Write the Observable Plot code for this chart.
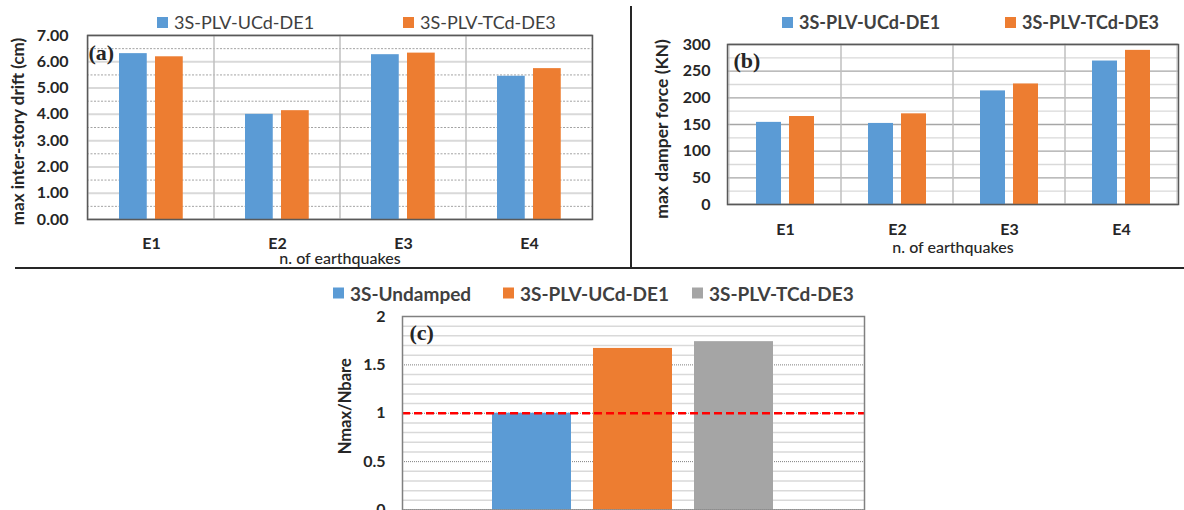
<!DOCTYPE html>
<html><head><meta charset="utf-8">
<script src="https://cdn.jsdelivr.net/npm/d3@7"></script>
<script src="https://cdn.jsdelivr.net/npm/@observablehq/plot@0.6"></script>
<style>
html,body{margin:0;padding:0;background:#fff;overflow:hidden;}
#root{position:relative;width:1184px;height:510px;overflow:hidden;font-family:Lato,"Noto Sans",sans-serif;}
.panel{position:absolute;}
.panel svg{overflow:visible;}
.item{position:absolute;display:flex;align-items:center;white-space:nowrap;color:#404040;transform:translateY(-50%);}
.sw{display:inline-block;width:11px;height:11px;margin-right:6px;}
.sep{position:absolute;background:#262626;}
</style></head>
<body><div id="root"></div>
<script>
// ---------- data ----------
const quakes = ["E1", "E2", "E3", "E4"];
const seriesNames = ["3S-PLV-UCd-DE1", "3S-PLV-TCd-DE3"];
const driftUCd = [6.31, 4.00, 6.27, 5.45];
const driftTCd = [6.19, 4.14, 6.33, 5.74];
const forceUCd = [154, 152, 213, 269];
const forceTCd = [165, 170, 226, 289];
const caseNames = ["3S-Undamped", "3S-PLV-UCd-DE1", "3S-PLV-TCd-DE3"];
const ratioValues = [1.00, 1.67, 1.74];
const ratioThreshold = [1];

const driftTicks = [0, 1, 2, 3, 4, 5, 6, 7];
const driftMinor = [0.5, 1.5, 2.5, 3.5, 4.5, 5.5, 6.5];
const forceTicks = [0, 50, 100, 150, 200, 250, 300];
const forceMinor = [25, 75, 125, 175, 225, 275];
const ratioTicks = [0, 0.5, 1, 1.5, 2];
const ratioTickLabels = ["0", "0.5", "1", "1.5", "2"];
const ratioMinor = [0.1, 0.2, 0.3, 0.4, 0.6, 0.7, 0.8, 0.9, 1.1, 1.2, 1.3, 1.4, 1.6, 1.7, 1.8, 1.9];

const BLUE = "#5b9bd5", ORANGE = "#ed7d31", GRAY = "#a5a5a5";
const FONT = "Lato, 'Noto Sans', sans-serif";
const SERIF = "'Liberation Serif', 'DejaVu Serif', serif";

const root = document.getElementById("root");

function place(node, left, top) {
  const d = document.createElement("div");
  d.className = "panel";
  d.style.left = left + "px"; d.style.top = top + "px";
  d.appendChild(node);
  root.appendChild(d);
}
function legend(items, top, fontSize, weight) {
  items.forEach(it => {
    const d = document.createElement("div");
    d.className = "item";
    d.style.left = it.left + "px"; d.style.top = top + "px";
    d.style.fontSize = fontSize + "px"; d.style.fontWeight = weight;
    const sw = document.createElement("span");
    sw.className = "sw"; sw.style.background = it.color;
    d.appendChild(sw);
    d.appendChild(document.createTextNode(it.label));
    root.appendChild(d);
  });
}
function sep(left, top, w, h) {
  const d = document.createElement("div");
  d.className = "sep";
  Object.assign(d.style, {left: left + "px", top: top + "px", width: w + "px", height: h + "px"});
  root.appendChild(d);
}

const baseStyle = {fontFamily: FONT, fontSize: "16px", fontWeight: "bold", color: "#262626", background: "transparent", overflow: "visible"};

// ---------- panel (a) ----------
const dA1 = quakes.map((q, i) => ({q, v: driftUCd[i]}));
const dA2 = quakes.map((q, i) => ({q, v: driftTCd[i]}));
const plotA = Plot.plot({
  width: 630, height: 238, marginLeft: 87, marginRight: 38, marginTop: 5, marginBottom: 49,
  style: baseStyle,
  x: {type: "band", domain: quakes, padding: 0},
  y: {domain: [0, 7]},
  marks: [
    Plot.ruleY(driftMinor, {stroke: "#8c8c8c", strokeWidth: 0.8, strokeDasharray: "2,1.5"}),
    Plot.ruleY(driftTicks, {stroke: "#d9d9d9", strokeWidth: 2}),
    Plot.barY(quakes, {x: d => d, y1: 0, y2: 7, fill: "none", stroke: "#bfbfbf", strokeWidth: 1}),
    Plot.barY(dA1, {x: "q", y: "v", fill: BLUE, insetLeft: 31, insetRight: 67.25}),
    Plot.barY(dA2, {x: "q", y: "v", fill: ORANGE, insetLeft: 67, insetRight: 31.25}),
    Plot.frame({stroke: "#595959", strokeWidth: 1.5}),
    Plot.axisX({tickSize: 0, tickPadding: 18, label: null}),
    Plot.axisY({ticks: driftTicks, tickFormat: d3.format(".2f"), tickSize: 0, tickPadding: 19, label: null}),
    Plot.text(["max inter-story drift (cm)"], {text: d => d, frameAnchor: "left", rotate: -90, dx: -69, dy: 4, textAnchor: "middle", lineAnchor: "middle", fontSize: 17}),
    Plot.text(["n. of earthquakes"], {text: d => d, frameAnchor: "bottom", dy: 39, lineAnchor: "middle", fontWeight: 500, fontSize: 16}),
    Plot.text(["(a)"], {text: d => d, frameAnchor: "top-left", dx: 1, dy: 17, lineAnchor: "middle", fontFamily: SERIF, fontSize: 22})
  ]
});
place(plotA, 0, 30);

// ---------- panel (b) ----------
const dB1 = quakes.map((q, i) => ({q, v: forceUCd[i]}));
const dB2 = quakes.map((q, i) => ({q, v: forceTCd[i]}));
const plotB = Plot.plot({
  width: 553, height: 238, marginLeft: 96, marginRight: 6, marginTop: 14, marginBottom: 64,
  style: baseStyle,
  x: {type: "band", domain: quakes, padding: 0},
  y: {domain: [0, 300]},
  marks: [
    Plot.ruleY(forceMinor, {stroke: "#d9d9d9", strokeWidth: 1.3}),
    Plot.ruleY(forceTicks, {stroke: "#a6a6a6", strokeWidth: 1.3}),
    Plot.barY(quakes, {x: d => d, y1: 0, y2: 300, fill: "none", stroke: "#bfbfbf", strokeWidth: 1}),
    Plot.barY(dB1, {x: "q", y: "v", fill: BLUE, insetLeft: 27, insetRight: 60}),
    Plot.barY(dB2, {x: "q", y: "v", fill: ORANGE, insetLeft: 60, insetRight: 27}),
    Plot.frame({stroke: "#595959", strokeWidth: 1.5}),
    Plot.axisX({tickSize: 0, tickPadding: 19, label: null}),
    Plot.axisY({ticks: forceTicks, tickSize: 0, tickPadding: 17, label: null}),
    Plot.text(["max damper force (KN)"], {text: d => d, frameAnchor: "left", rotate: -90, dx: -65, dy: 4.5, textAnchor: "middle", lineAnchor: "middle", fontSize: 17.5}),
    Plot.text(["n. of earthquakes"], {text: d => d, frameAnchor: "bottom", dy: 43, lineAnchor: "middle", fontWeight: 500, fontSize: 16}),
    Plot.text(["(b)"], {text: d => d, frameAnchor: "top-left", dx: 6, dy: 16, lineAnchor: "middle", fontFamily: SERIF, fontSize: 22})
  ]
});
place(plotB, 631, 30);

// ---------- panel (c) ----------
const dC = caseNames.map((name, i) => ({name, v: ratioValues[i]}));
const plotC = Plot.plot({
  width: 600, height: 230, marginLeft: 102, marginRight: 36, marginTop: 16, marginBottom: 20.5,
  style: baseStyle,
  x: {type: "band", domain: caseNames, paddingInner: 0.216, paddingOuter: 0.873, axis: null},
  y: {domain: [0, 2]},
  color: {domain: caseNames, range: [BLUE, ORANGE, GRAY]},
  marks: [
    Plot.ruleY(ratioMinor, {stroke: "#d9d9d9", strokeWidth: 1.5}),
    Plot.ruleY(ratioTicks, {stroke: "#7f7f7f", strokeWidth: 1, strokeDasharray: "1,1"}),
    Plot.barY(dC, {x: "name", y: "v", fill: "name"}),
    Plot.ruleY(ratioThreshold, {stroke: "#ff0000", strokeWidth: 2.5, strokeDasharray: "8,4"}),
    Plot.frame({stroke: "#808080", strokeWidth: 1.5}),
    Plot.axisY({ticks: ratioTicks, tickFormat: (d, i) => ratioTickLabels[ratioTicks.indexOf(d)], tickSize: 0, tickPadding: 17, label: null}),
    Plot.text(["Nmax/Nbare"], {text: d => d, frameAnchor: "left", rotate: -90, dx: -57, dy: -7, textAnchor: "middle", lineAnchor: "middle", fontSize: 16.5}),
    Plot.text(["(c)"], {text: d => d, frameAnchor: "top-left", dx: 7, dy: 16, lineAnchor: "middle", fontFamily: SERIF, fontSize: 22})
  ]
});
place(plotC, 300, 300);

// ---------- legends ----------
legend([{label: seriesNames[0], color: BLUE, left: 157}, {label: seriesNames[1], color: ORANGE, left: 403}], 22, 18, "normal");
legend([{label: seriesNames[0], color: BLUE, left: 782}, {label: seriesNames[1], color: ORANGE, left: 1005}], 22, 18, "bold");
legend([{label: caseNames[0], color: BLUE, left: 333}, {label: caseNames[1], color: ORANGE, left: 503}, {label: caseNames[2], color: GRAY, left: 692}], 293, 19, "bold");

// ---------- separators ----------
sep(15, 267, 1169, 2);
sep(630, 6, 2, 262);
</script></body></html>
